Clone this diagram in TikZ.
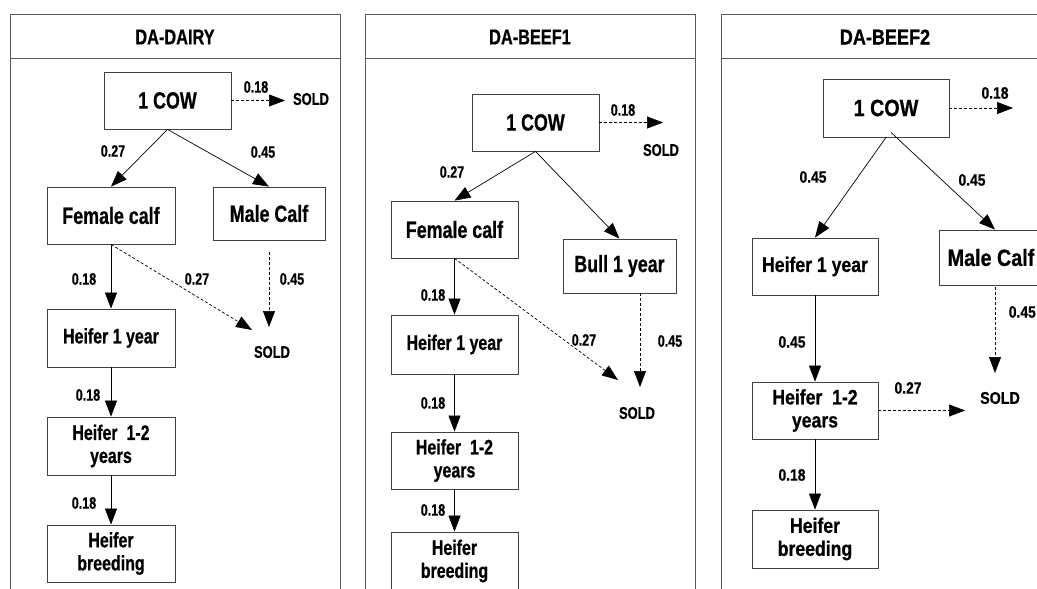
\documentclass[tikz,border=0pt]{standalone}
\usepackage{fontspec}
\setmainfont[FakeStretch=0.76,BoldFeatures={FakeBold=0.7}]{Liberation Sans}
\newfontfamily\widefam[FakeStretch=0.84,BoldFeatures={FakeBold=0.7}]{Liberation Sans}
\usetikzlibrary{arrows.meta}
\newcommand\pfam{\rmfamily}
\tikzset{
  box/.style={draw=black!75, line width=0.8pt, fill=white, inner sep=0pt, align=center,
              font=\pfam\bfseries\fontsize{23.5}{25}\selectfont},
  hbox/.style={box, font=\pfam\bfseries\fontsize{21}{23}\selectfont},
  lbl/.style={inner sep=0pt, font=\pfam\bfseries\fontsize{16.5}{18}\selectfont},
  ttl/.style={inner sep=0pt, font=\pfam\bfseries\fontsize{21.5}{24}\selectfont},
  sold/.style={inner sep=0pt, font=\pfam\bfseries\fontsize{17}{19}\selectfont},
  frame/.style={draw=black!65, line width=0.9pt},
  conn/.style={draw=black, line width=0.7pt, -{Triangle[length=16pt,width=12pt]}},
  dconn/.style={conn, dash pattern=on 3pt off 2pt},
}
\begin{document}
\begin{tikzpicture}[x=1pt,y=-1pt]
\useasboundingbox (0,0) rectangle (1037,589);
\clip (0,0) rectangle (1037,589);

% ---------- frames ----------
\draw[frame] (10,592) -- (10,14) -- (340,14) -- (340,592);
\draw[frame] (10,58) -- (340,58);
\draw[frame] (365,592) -- (365,14) -- (695,14) -- (695,592);
\draw[frame] (365,58) -- (695,58);
\draw[frame] (721,592) -- (721,14) -- (1045,14);
\draw[frame] (721,58) -- (1045,58);
\node[ttl] (t1) at (175,37) {DA-DAIRY};
\node[ttl] (t2) at (530,37) {DA-BEEF1};

% ---------- Panel 1: DA-DAIRY ----------
\node[box, minimum width=127pt, minimum height=57pt] (cow1) at (167.5,100.5) {1 COW};
\node[box, minimum width=128pt, minimum height=57pt] (fem1) at (111,215.5) {Female calf};
\node[box, minimum width=112pt, minimum height=53pt] (male1) at (269,213.5) {Male Calf};
\node[hbox, minimum width=128pt, minimum height=58pt] (h1a) at (111,338) {Heifer 1 year};
\node[hbox, minimum width=128pt, minimum height=58pt] (h1b) at (111,446) {Heifer\ \ 1-2\\years};
\node[hbox, minimum width=128pt, minimum height=57pt] (h1c) at (111,553.5) {Heifer\\breeding};
\node[sold] (s1a) at (311,99) {SOLD};
\node[sold] (s1b) at (272,352) {SOLD};
\coordinate (e1a) at (285,100.5);
\coordinate (e1b) at (252,330);
\coordinate (e1c) at (269,327);

\draw[dconn] (cow1.east) -- (e1a);
\draw[conn] (cow1.south) -- (fem1.north);
\draw[conn] (cow1.south) -- (male1.north);
\draw[conn] (fem1.south) -- (h1a.north);
\draw[conn] (h1a.south) -- (h1b.north);
\draw[conn] (h1b.south) -- (h1c.north);
\draw[dconn] (fem1.south) -- (e1b);
\draw[dconn] ([yshift=-12pt]male1.south) -- (e1c);

\node[lbl] (l1a) at (256,87) {0.18};
\node[lbl] (l1b) at (113,151) {0.27};
\node[lbl] (l1c) at (263,152) {0.45};
\node[lbl] (l1d) at (84,279) {0.18};
\node[lbl] (l1e) at (197,279) {0.27};
\node[lbl] (l1f) at (292,279) {0.45};
\node[lbl] (l1g) at (88,395) {0.18};
\node[lbl] (l1h) at (84,503) {0.18};

% ---------- Panel 2: DA-BEEF1 ----------
\node[box, minimum width=127pt, minimum height=57pt] (cow2) at (535.5,122.5) {1 COW};
\node[box, minimum width=127pt, minimum height=57pt] (fem2) at (454.5,229.5) {Female calf};
\node[box, minimum width=113pt, minimum height=54pt] (bull2) at (619.5,266) {Bull 1 year};
\node[hbox, minimum width=127pt, minimum height=59pt] (h2a) at (454.5,344.5) {Heifer 1 year};
\node[hbox, minimum width=127pt, minimum height=57pt] (h2b) at (454.5,460.5) {Heifer\ \ 1-2\\years};
\node[hbox, minimum width=127pt, minimum height=58pt] (h2c) at (454.5,561) {Heifer\\breeding};
\node[sold] (s2a) at (661,150) {SOLD};
\node[sold] (s2b) at (637,413) {SOLD};
\coordinate (e2a) at (663,122.5);
\coordinate (e2b) at (618,380);
\coordinate (e2c) at (640,387);

\draw[dconn] (cow2.east) -- (e2a);
\draw[conn] (cow2.south) -- (fem2.north);
\draw[conn] (cow2.south) -- (bull2.north);
\draw[conn] (fem2.south) -- (h2a.north);
\draw[conn] (h2a.south) -- (h2b.north);
\draw[conn] (h2b.south) -- (h2c.north);
\draw[dconn] (fem2.south) -- (e2b);
\draw[dconn] ([xshift=20.5pt]bull2.south) -- (e2c);

\node[lbl] (l2a) at (623,110) {0.18};
\node[lbl] (l2b) at (452,172) {0.27};
\node[lbl] (l2c) at (433,295) {0.18};
\node[lbl] (l2d) at (584,340) {0.27};
\node[lbl] (l2e) at (670,341) {0.45};
\node[lbl] (l2f) at (433,403) {0.18};
\node[lbl] (l2g) at (433,510) {0.18};

% ---------- Panel 3: DA-BEEF2 ----------
\begin{scope}
\renewcommand\pfam{\widefam}
\node[ttl] (t3) at (885,37) {DA-BEEF2};
\node[box, minimum width=126pt, minimum height=58pt] (cow3) at (886,108) {1 COW};
\node[hbox, minimum width=126pt, minimum height=57pt] (h3a) at (815,266.5) {Heifer 1 year};
\node[box, minimum width=104pt, minimum height=55pt] (male3) at (991,257.5) {Male Calf};
\node[hbox, minimum width=126pt, minimum height=57pt] (h3b) at (815,410.5) {Heifer\ \ 1-2\\years};
\node[hbox, minimum width=126pt, minimum height=58pt] (h3c) at (815,539) {Heifer\\breeding};
\node[sold] (s3) at (1000,398) {SOLD};
\coordinate (e3a) at (1013,108);
\coordinate (e3b) at (965,410.5);
\coordinate (e3c) at (995,373);

\draw[dconn] (cow3.east) -- (e3a);
\draw[conn] (cow3.south) -- (h3a.north);
\draw[conn] ([xshift=5pt,yshift=5pt]cow3.south) -- ([xshift=4pt]male3.north);
\draw[conn] (h3a.south) -- (h3b.north);
\draw[conn] (h3b.south) -- (h3c.north);
\draw[dconn] (h3b.east) -- (e3b);
\draw[dconn] ([xshift=4pt,yshift=-2pt]male3.south) -- (e3c);

\node[lbl] (l3a) at (995,93) {0.18};
\node[lbl] (l3b) at (813,177) {0.45};
\node[lbl] (l3c) at (972,180) {0.45};
\node[lbl, anchor=east] (l3d) at (1036,312) {0.45};
\node[lbl] (l3e) at (792,342) {0.45};
\node[lbl] (l3f) at (908,388) {0.27};
\node[lbl] (l3g) at (792,475) {0.18};
\end{scope}
\end{tikzpicture}
\end{document}
